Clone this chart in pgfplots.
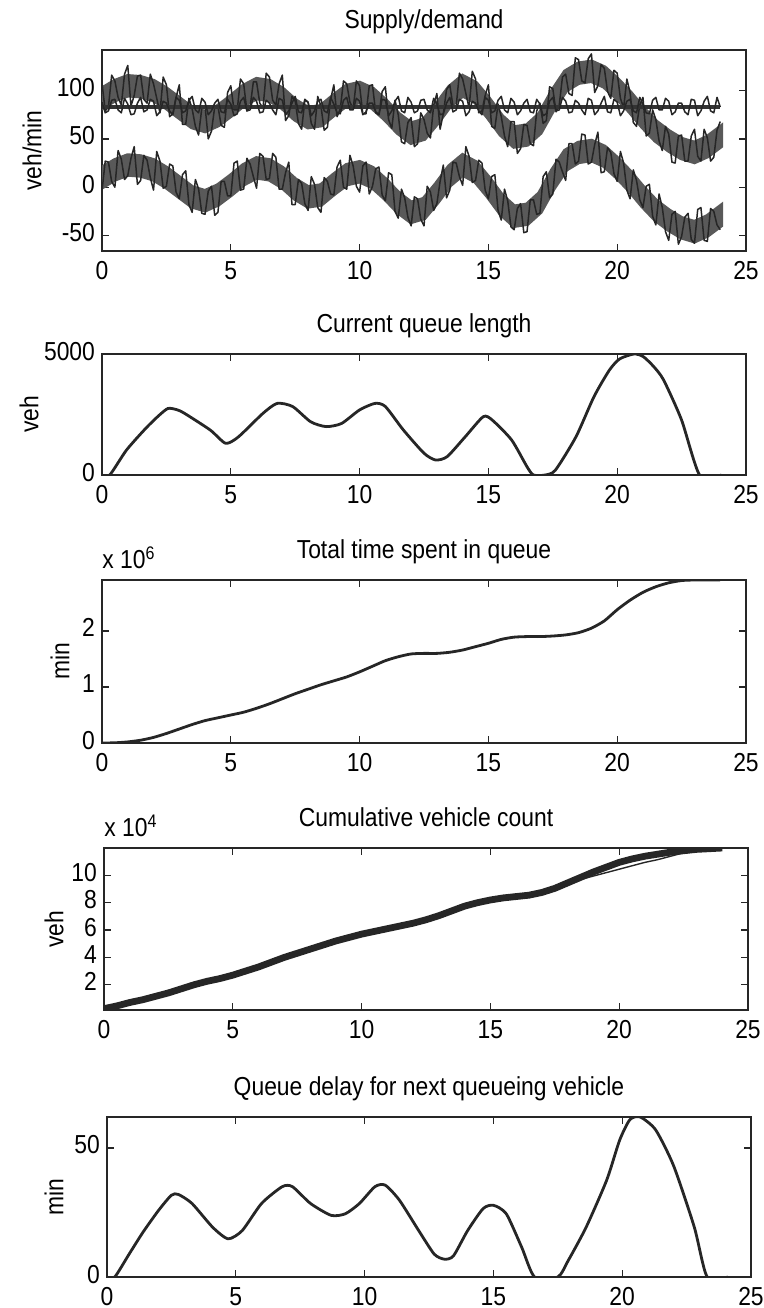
\documentclass[border=0pt]{standalone}
\usepackage{pgfplots}
\usepgfplotslibrary{fillbetween}
\pgfplotsset{compat=1.18}
\usepackage{fontspec}
\setmainfont{Liberation Sans}[FakeStretch=0.88]

% noisy supply/demand series (demand, difference, capacity), read every 1/8 hour
\pgfplotstableread{
t d e c
0 108 -4 88
0.125 79 27 77
0.25 83 26 79
0.375 116 6 90
0.5 110 0 91
0.625 93 38 80
0.75 85 29 77
0.875 117 8 92
1 126 12 86
1.125 84 30 75
1.25 95 42 76
1.375 115 3 87
1.5 116 7 93
1.625 91 33 78
1.75 87 28 80
1.875 117 10 91
2 107 -3 89
2.125 92 37 74
2.25 77 27 78
2.375 114 -1 89
2.5 106 1 87
2.625 73 24 79
2.75 76 22 75
2.875 93 -5 93
3 106 -12 90
3.125 65 13 77
3.25 65 17 79
3.375 92 -18 90
3.5 81 -26 94
3.625 63 8 80
3.75 54 -2 77
3.875 82 -27 92
4 84 -28 88
4.125 50 -4 75
4.25 58 1 79
4.375 83 -29 87
4.5 84 -26 91
4.625 64 6 78
4.75 62 6 77
4.875 98 -9 91
5 105 -9 86
5.125 80 25 74
5.25 80 27 76
5.375 112 -3 89
5.5 107 -2 93
5.625 79 30 79
5.75 83 24 80
5.875 109 11 93
6 109 -1 89
6.125 87 35 77
6.25 82 32 78
6.375 118 8 90
6.5 114 9 87
6.625 90 35 80
6.75 85 31 75
6.875 107 -2 92
7 116 -2 90
7.125 69 15 75
7.25 74 26 79
7.375 94 -18 87
7.5 89 -18 94
7.625 66 8 78
7.75 60 4 77
7.875 90 -17 91
8 88 -24 88
8.125 66 11 74
8.25 60 3 79
8.375 94 -21 89
8.5 84 -26 91
8.625 59 10 79
8.75 62 6 77
8.875 91 -7 93
9 106 -8 86
9.125 73 21 77
9.25 81 28 76
9.375 110 0 90
9.5 107 -2 93
9.625 88 33 80
9.75 81 22 80
9.875 110 1 92
10 105 -5 89
10.125 76 22 75
10.25 76 26 78
10.375 105 -7 87
10.5 106 1 87
10.625 77 19 78
10.75 75 21 75
10.875 99 -8 91
11 104 -14 90
11.125 70 15 74
11.25 61 13 79
11.375 90 -25 89
11.5 75 -32 94
11.625 47 -2 79
11.75 45 -11 77
11.875 67 -31 93
12 72 -40 88
12.125 42 -10 77
12.25 45 -12 79
12.375 77 -33 90
12.5 70 -40 91
12.625 56 1 80
12.75 51 -5 77
12.875 85 -24 92
13 97 -17 86
13.125 60 6 75
13.25 76 23 76
13.375 101 -11 87
13.5 106 -3 93
13.625 84 26 78
13.75 84 25 80
13.875 118 11 91
14 112 2 89
14.125 97 42 74
14.25 82 32 78
14.375 120 5 89
14.5 112 7 87
14.625 77 28 79
14.75 79 25 75
14.875 95 -3 93
15 106 -12 90
15.125 63 11 77
15.25 61 13 79
15.375 86 -24 90
15.5 73 -34 94
15.625 53 -2 80
15.75 42 -14 77
15.875 68 -41 92
16 68 -44 88
16.125 35 -22 75
16.25 40 -17 79
16.375 65 -47 87
16.5 64 -46 91
16.625 45 -13 78
16.75 43 -13 77
16.875 79 -28 91
17 87 -27 86
17.125 66 11 74
17.25 69 16 76
17.375 104 -11 89
17.5 102 -7 93
17.625 78 29 79
17.75 85 26 80
17.875 114 16 93
18 117 7 89
18.125 97 45 77
18.25 95 45 78
18.375 134 24 90
18.5 132 27 87
18.625 110 55 80
18.75 108 54 75
18.875 133 24 92
19 138 26 90
19.125 98 44 75
19.25 105 57 79
19.375 127 15 87
19.5 123 16 94
19.625 99 41 78
19.75 92 36 77
19.875 121 14 91
20 118 6 88
20.125 92 37 74
20.25 82 25 79
20.375 112 -3 89
20.5 98 -12 91
20.625 67 18 79
20.75 63 7 77
20.875 85 -13 93
21 93 -21 86
21.125 53 1 77
21.25 56 3 76
21.375 80 -30 90
21.5 70 -39 93
21.625 48 -7 80
21.75 38 -21 80
21.875 63 -46 92
22 55 -55 89
22.125 26 -28 75
22.25 25 -25 78
22.375 53 -59 87
22.5 54 -51 87
22.625 27 -31 78
22.75 27 -27 75
22.875 53 -54 91
23 60 -58 90
23.125 32 -23 74
23.25 27 -21 79
23.375 60 -55 89
23.5 51 -56 94
23.625 27 -22 79
23.75 31 -25 77
23.875 59 -39 93
24 68 -44 83
}\supply

% inner bands of the two oscillating series
\pgfplotstableread{
t dlo dhi elo ehi
0 83 101 1 19
0.5 91 109 9 27
1 96 114 14 32
1.5 95 113 13 31
2 91 109 9 27
2.5 83 101 1 19
3 73 91 -9 9
3.5 63 81 -19 -1
4 59 77 -23 -5
4.5 65 83 -17 1
5 75 93 -7 11
5.5 86 104 4 22
6 93 111 11 29
6.5 91 109 9 27
7 83 101 1 19
7.5 71 89 -11 7
8 63 81 -19 -1
8.5 65 83 -17 1
9 76 94 -6 12
9.5 86 104 4 22
10 89 107 7 25
10.5 83 101 1 19
11 71 89 -11 7
11.5 57 75 -25 -7
12 47 65 -35 -17
12.5 51 69 -31 -13
13 67 85 -15 3
13.5 85 103 3 21
14 96 114 14 32
14.5 89 107 7 25
15 73 91 -9 9
15.5 55 73 -27 -9
16 43 61 -39 -21
16.5 45 63 -37 -19
17 57 75 -25 -7
17.5 81 99 -1 17
18 101 119 19 37
18.5 109 127 27 45
19 111 129 29 47
19.5 105 123 23 41
20 93 111 11 29
20.5 79 97 -3 15
21 63 81 -19 -1
21.5 49 67 -33 -15
22 39 57 -43 -25
22.5 31 49 -51 -33
23 27 45 -55 -37
23.5 33 51 -49 -31
24 43 61 -39 -21
}\bands

\pgfplotstableread{
t a b
0 0.25 0.25
0.5 0.45 0.45
1 0.7 0.7
1.5 0.9 0.9
2 1.15 1.15
2.5 1.4 1.4
3 1.7 1.7
3.5 2.0 2.0
4 2.25 2.25
4.5 2.45 2.45
5 2.7 2.7
5.5 3.0 3.0
6 3.3 3.3
6.5 3.65 3.65
7 4.0 4.0
7.5 4.3 4.3
8 4.6 4.6
8.5 4.9 4.9
9 5.2 5.2
9.5 5.45 5.45
10 5.7 5.7
10.5 5.9 5.9
11 6.1 6.1
11.5 6.3 6.3
12 6.5 6.5
12.5 6.75 6.75
13 7.05 7.05
13.5 7.4 7.4
14 7.75 7.75
14.5 8.0 8.0
15 8.2 8.2
15.5 8.35 8.35
16 8.45 8.45
16.5 8.55 8.55
17 8.75 8.75
17.5 9.05 9.05
18 9.45 9.4
18.5 9.85 9.7
19 10.25 9.95
19.5 10.6 10.2
20 10.95 10.45
20.5 11.2 10.7
21 11.4 10.95
21.5 11.55 11.15
22 11.7 11.4
22.5 11.8 11.65
23 11.9 11.85
23.5 11.95 11.95
24 12.0 12.0
}\cumcount

\pgfplotsset{
  matlab/.style={
    scale only axis, width=322pt, anchor=south west, clip mode=individual,
    xmin=0, xmax=25, xtick={0,5,...,25},
    axis line style={line width=0.8pt, black!85},
    tick style={line width=0.6pt, black!85},
    major tick length=3.5pt,
    tick label style={font=\fontsize{13}{15}\selectfont},
    typeset ticklabels with strut,
    /pgf/number format/assume math mode=true,
    /pgf/number format/1000 sep={},
    title style={font=\fontsize{13}{15}\selectfont, at={(0.5,1)}, anchor=base, yshift=5pt},
    ylabel style={font=\fontsize{13}{15}\selectfont, at={(rel axis cs:0,0.5)}, anchor=center},
  },
  curve/.style={black!85, line width=1.4pt, line join=round, smooth, tension=0.4},
  noisy/.style={black!85, line width=0.75pt, line join=round},
}

\begin{document}
\begin{tikzpicture}

\begin{axis}[matlab, at={(51pt,-125.5pt)}, height=100.5pt,
  ymin=-66, ymax=142, ytick={-50,0,50,100},
  title={Supply/demand}, ylabel={veh/min}, ylabel style={yshift=35pt}]
\addplot[draw=none, name path=dlo] table[x=t, y=dlo] \bands;
\addplot[draw=none, name path=dhi] table[x=t, y=dhi] \bands;
\addplot[fill=black!65, draw=black!65, line width=3pt] fill between[of=dhi and dlo];
\addplot[draw=none, name path=elo] table[x=t, y=elo] \bands;
\addplot[draw=none, name path=ehi] table[x=t, y=ehi] \bands;
\addplot[fill=black!65, draw=black!65, line width=3pt] fill between[of=ehi and elo];
\addplot[noisy] table[x=t, y=d] \supply;
\addplot[noisy] table[x=t, y=e] \supply;
\addplot[black!80, line width=2.2pt] coordinates {(0,83) (24,83)};
\addplot[noisy] table[x=t, y=c] \supply;
\end{axis}

\begin{axis}[matlab, at={(51pt,-237.5pt)}, height=60.5pt,
  ymin=0, ymax=5000, ytick={0,5000},
  title={Current queue length}, ylabel={veh}, ylabel style={yshift=36.5pt}]
\addplot[curve] coordinates {
(0,0) (0.3,0) (0.95,1030) (1.7,1930) (2.2,2450) (2.56,2750) (2.9,2700)
(3.2,2550) (4.2,1860) (4.8,1310) (5.3,1580) (6.25,2550) (6.8,2960)
(7.4,2830) (8.1,2200) (8.7,2000) (9.3,2130) (10.0,2690) (10.6,2960)
(11.0,2830) (11.7,1860) (12.5,900) (12.95,620) (13.4,760) (14.1,1580)
(14.8,2410) (15.15,2270) (15.9,1450) (16.5,340) (16.75,0) (17.2,0)
(17.6,200) (18.4,1580) (19.1,3240) (19.7,4340) (20.1,4800) (20.65,5000)
(21.0,4900) (21.4,4500) (21.8,3930) (22.5,2270) (23.2,0) (24.05,0)
};
\end{axis}

\begin{axis}[matlab, at={(51pt,-371.5pt)}, height=81.5pt,
  ymin=0, ymax=2.91, ytick={0,1,2},
  title={Total time spent in queue}, ylabel={min}, ylabel style={yshift=21pt}]
\addplot[curve] coordinates {
(0,0) (0.5,0.004) (1,0.02) (1.5,0.05) (2,0.1) (2.5,0.17) (3,0.25) (3.5,0.33)
(4,0.4) (4.5,0.45) (5,0.5) (5.5,0.55) (6,0.62) (6.5,0.7) (7,0.79) (7.5,0.88)
(8,0.96) (8.5,1.04) (9,1.11) (9.5,1.18) (10,1.27) (10.5,1.37) (11,1.47)
(11.5,1.54) (12,1.59) (12.5,1.6) (13,1.6) (13.5,1.62) (14,1.66) (14.5,1.72)
(15,1.78) (15.5,1.85) (16,1.89) (16.5,1.9) (17,1.9) (17.5,1.91) (18,1.93)
(18.5,1.97) (19,2.05) (19.5,2.18) (20,2.38) (20.5,2.55) (21,2.69) (21.5,2.79)
(22,2.86) (22.5,2.9) (23,2.91) (24,2.91)
};
\node[anchor=base west, inner sep=0pt, font=\fontsize{13}{15}\selectfont]
  at (rel axis cs:0,1) [yshift=6pt] {x 10\textsuperscript{6}};
\end{axis}

\begin{axis}[matlab, at={(52pt,-505pt)}, height=81pt,
  ymin=0.15, ymax=12, ytick={2,4,6,8,10},
  title={Cumulative vehicle count}, ylabel={veh}, ylabel style={yshift=25pt}]
\addplot[black!85, line width=3.4pt] table[x=t, y=a] \cumcount;
\addplot[black!85, line width=0.7pt] table[x=t, y=b] \cumcount;
\node[anchor=base west, inner sep=0pt, font=\fontsize{13}{15}\selectfont]
  at (rel axis cs:0,1) [yshift=6pt] {x 10\textsuperscript{4}};
\end{axis}

\begin{axis}[matlab, at={(53.5pt,-638.5pt)}, height=80pt,
  ymin=0, ymax=62, ytick={0,50},
  title={Queue delay for next queueing vehicle}, ylabel={min}, ylabel style={yshift=26.5pt}]
\addplot[curve] coordinates {
(0,0) (0.3,0) (0.86,8.9) (1.4,17.4) (2.0,25.8) (2.5,31.7) (2.77,32) (3.3,28.5)
(4.1,19.3) (4.7,14.8) (5.25,18) (6.0,28.5) (6.8,35) (7.2,35) (7.9,28.5)
(8.7,23.9) (9.25,24.5) (9.8,28.5) (10.4,35) (10.8,35.6) (11.35,29.8)
(12.1,18) (12.7,8.9) (13.1,6.9) (13.45,8.2) (14.0,18) (14.6,26.5) (15.0,27.8)
(15.5,24.5) (16.1,11.5) (16.6,0) (17.5,0) (17.9,6.3) (18.6,19.3) (19.4,37.6)
(19.9,53) (20.3,61) (20.7,62) (21.3,57) (22.0,43) (22.8,19.3) (23.3,0) (24.1,0)
};
\end{axis}

\pgfresetboundingbox
\path[use as bounding box] (0,0) rectangle (382pt,-654pt);
\end{tikzpicture}
\end{document}
